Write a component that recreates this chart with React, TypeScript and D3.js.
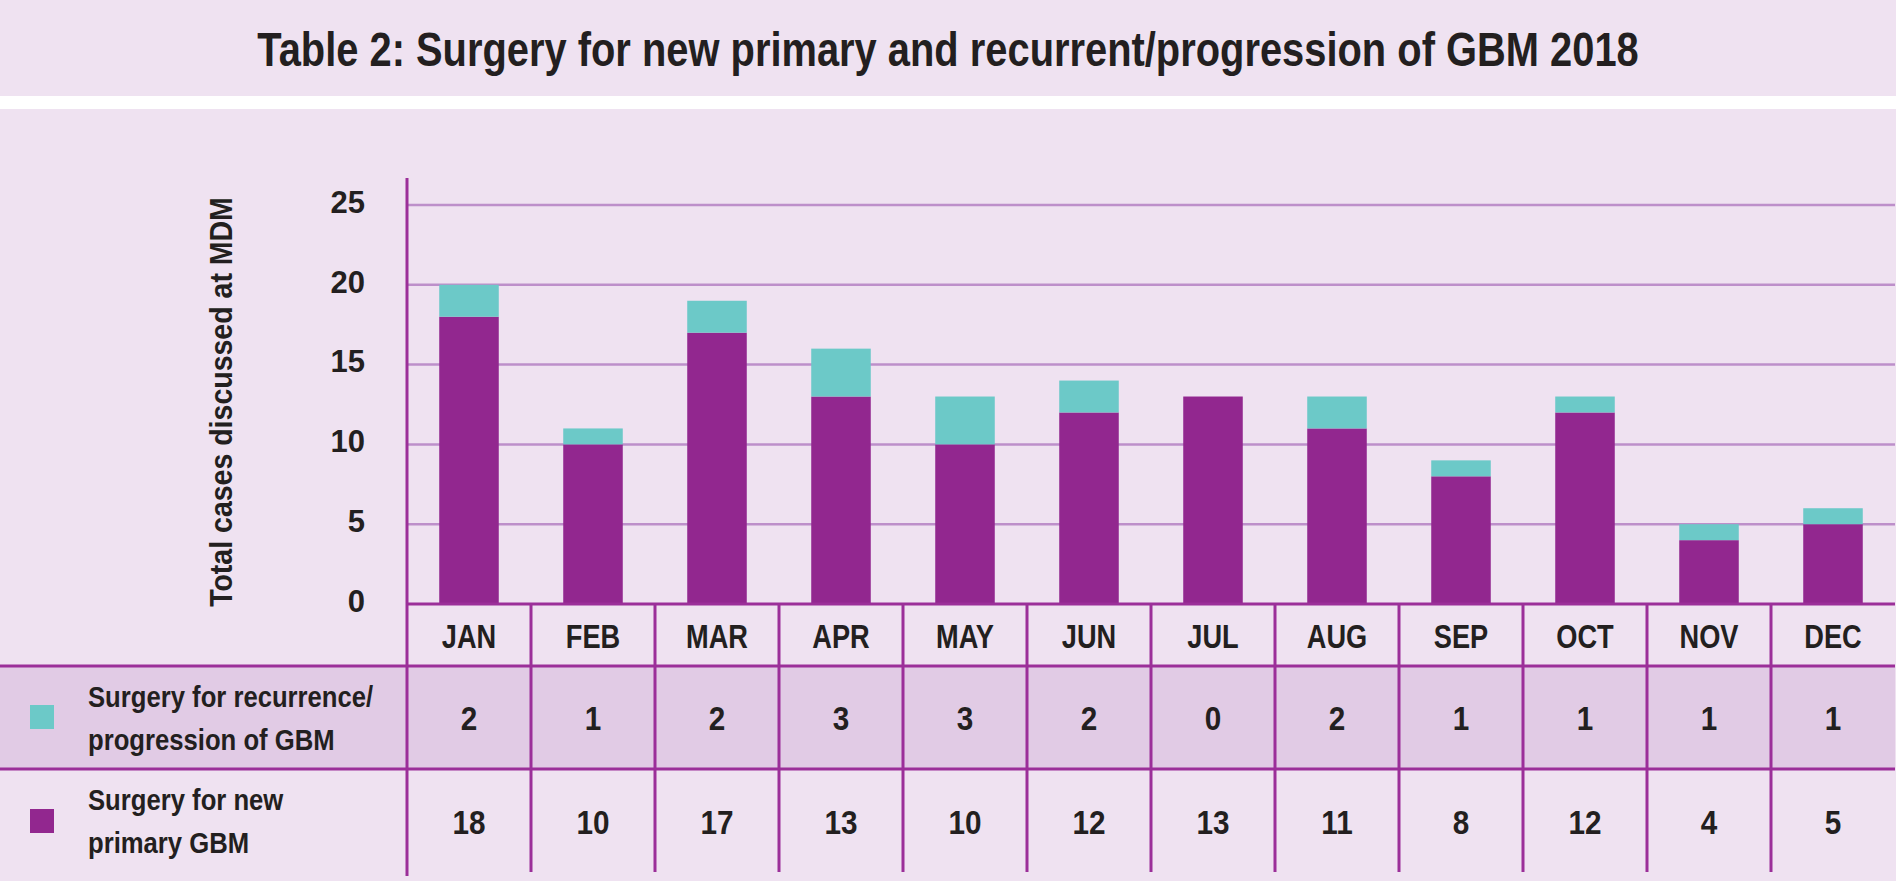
import { useEffect, useRef } from "react";
import * as d3 from "d3";

const months = ["JAN", "FEB", "MAR", "APR", "MAY", "JUN", "JUL", "AUG", "SEP", "OCT", "NOV", "DEC"];
const recurrence = [2, 1, 2, 3, 3, 2, 0, 2, 1, 1, 1, 1];
const primary = [18, 10, 17, 13, 10, 12, 13, 11, 8, 12, 4, 5];
const yTicks = [0, 5, 10, 15, 20, 25];
const seriesLabels = [
  { key: "recurrence", lines: ["Surgery for recurrence/", "progression of GBM"] },
  { key: "primary", lines: ["Surgery for new", "primary GBM"] },
];

const W = 1896;
const H = 896;
const BG = "#efe2f1";
const ROW_BG = "#e1cbe5";
const PURPLE = "#92278f";
const TEAL = "#6cc9c8";
const GRID = "#bd8fca";
const LINE = "#9b2f99";
const INK = "#231f20";
const FONT = "'Liberation Sans', Arial, sans-serif";

export default function App() {
  const svgRef = useRef<SVGSVGElement | null>(null);

  useEffect(() => {
    document.body.style.margin = "0";
    const svg = d3.select(svgRef.current);
    svg.selectAll("*").remove();

    const left = 407;
    const right = 1895;
    const headTop = 604;
    const row1Top = 666;
    const row2Top = 769;
    const tableBottom = 872;

    const xCol = d3.scaleBand<string>().domain(months).range([left, right]).padding(0);
    const xBar = d3
      .scaleBand<string>()
      .domain(months)
      .range([left, right])
      .paddingInner(0.52)
      .paddingOuter(0.26);
    const y = d3.scaleLinear().domain([0, 25]).range([headTop, 205]);

    // condensed bold text: no narrow font installed, so squeeze horizontally
    const label = (
      g: d3.Selection<any, any, any, any>,
      x: number,
      yy: number,
      txt: string | number,
      size: number,
      sx: number,
      anchor = "start"
    ) =>
      g
        .append("text")
        .attr("transform", `translate(${x},${yy}) scale(${sx},1)`)
        .attr("text-anchor", anchor)
        .attr("font-family", FONT)
        .attr("font-weight", "bold")
        .attr("font-size", size)
        .attr("fill", INK)
        .text(txt);

    // squeeze a text to a target width after measuring it
    const fitTo = (t: d3.Selection<SVGTextElement, any, any, any>, width: number, base: string) => {
      const w = t.node()!.getComputedTextLength() || width;
      t.attr("transform", `${base} scale(${width / w},1)`);
    };

    // backgrounds
    svg.append("rect").attr("x", 0).attr("y", 0).attr("width", W).attr("height", H).attr("fill", "#ffffff");
    svg.append("rect").attr("x", 0).attr("y", 0).attr("width", W).attr("height", 96).attr("fill", BG);
    svg.append("rect").attr("x", 0).attr("y", 109).attr("width", W).attr("height", 881 - 109).attr("fill", BG);
    svg
      .append("rect")
      .attr("x", 0)
      .attr("y", row1Top)
      .attr("width", right)
      .attr("height", row2Top - row1Top)
      .attr("fill", ROW_BG);

    // title
    const title = svg
      .append("text")
      .attr("text-anchor", "middle")
      .attr("font-family", FONT)
      .attr("font-weight", "bold")
      .attr("font-size", 48)
      .attr("fill", INK)
      .text("Table 2: Surgery for new primary and recurrent/progression of GBM 2018");
    fitTo(title, 1382, `translate(${W / 2},66)`);

    // gridlines
    svg
      .append("g")
      .selectAll("line")
      .data(yTicks.filter((t) => t > 0))
      .join("line")
      .attr("x1", left)
      .attr("x2", right)
      .attr("y1", (d) => y(d))
      .attr("y2", (d) => y(d))
      .attr("stroke", GRID)
      .attr("stroke-width", 2.5);

    // tick labels
    svg
      .append("g")
      .selectAll("text")
      .data(yTicks)
      .join("text")
      .attr("x", 365)
      .attr("y", (d) => y(d) - 3)
      .attr("dy", "0.35em")
      .attr("text-anchor", "end")
      .attr("font-family", FONT)
      .attr("font-weight", "bold")
      .attr("font-size", 31)
      .attr("fill", INK)
      .text((d) => d);

    // y label
    const yLabel = svg
      .append("text")
      .attr("text-anchor", "middle")
      .attr("font-family", FONT)
      .attr("font-weight", "bold")
      .attr("font-size", 31)
      .attr("fill", INK)
      .text("Total cases discussed at MDM");
    fitTo(yLabel, 410, "translate(232,402) rotate(-90)");

    // stacked bars
    const rows = months.map((m, i) => ({ month: m, primary: primary[i], recurrence: recurrence[i] }));
    const stacked = d3.stack<any>().keys(["primary", "recurrence"])(rows);
    const colors: Record<string, string> = { primary: PURPLE, recurrence: TEAL };
    svg
      .append("g")
      .selectAll("g")
      .data(stacked)
      .join("g")
      .attr("fill", (s) => colors[s.key])
      .selectAll("rect")
      .data((s) => s.filter((d) => d[1] - d[0] > 0))
      .join("rect")
      .attr("x", (d) => xBar(d.data.month)!)
      .attr("width", xBar.bandwidth())
      .attr("y", (d) => y(d[1]))
      .attr("height", (d) => y(d[0]) - y(d[1]));

    // table lines
    const lines = svg.append("g").attr("stroke", LINE).attr("stroke-width", 3);
    lines.append("line").attr("x1", left).attr("x2", right).attr("y1", headTop).attr("y2", headTop);
    [row1Top, row2Top].forEach((yy) =>
      lines.append("line").attr("x1", 0).attr("x2", right).attr("y1", yy).attr("y2", yy)
    );
    lines.append("line").attr("x1", left).attr("x2", left).attr("y1", 178).attr("y2", tableBottom + 4);
    lines
      .selectAll("line.col")
      .data(months.slice(1))
      .join("line")
      .attr("class", "col")
      .attr("x1", (d) => xCol(d)!)
      .attr("x2", (d) => xCol(d)!)
      .attr("y1", headTop)
      .attr("y2", tableBottom);

    // month labels
    const monthG = svg.append("g");
    months.forEach((m) => label(monthG, xCol(m)! + xCol.bandwidth() / 2, 648, m, 34, 0.8, "middle"));

    // table values
    const valueG = svg.append("g");
    [
      { values: recurrence, base: 730 },
      { values: primary, base: 834 },
    ].forEach((r) =>
      r.values.forEach((v, i) =>
        label(valueG, xCol(months[i])! + xCol.bandwidth() / 2, r.base, v, 33, 0.9, "middle")
      )
    );

    // legend
    const legendG = svg.append("g");
    const legendRows = [
      { ...seriesLabels[0], color: TEAL, cy: 717, base: 707 },
      { ...seriesLabels[1], color: PURPLE, cy: 821, base: 810 },
    ];
    legendRows.forEach((r) => {
      legendG
        .append("rect")
        .attr("x", 30)
        .attr("y", r.cy - 12)
        .attr("width", 24)
        .attr("height", 24)
        .attr("fill", r.color);
      r.lines.forEach((t, j) => label(legendG, 88, r.base + j * 43, t, 29, 0.885));
    });
  }, []);

  return (
    <div style={{ position: "absolute", left: 0, top: 0, width: W, height: H }}>
      <svg ref={svgRef} width={W} height={H} viewBox={`0 0 ${W} ${H}`} />
    </div>
  );
}
